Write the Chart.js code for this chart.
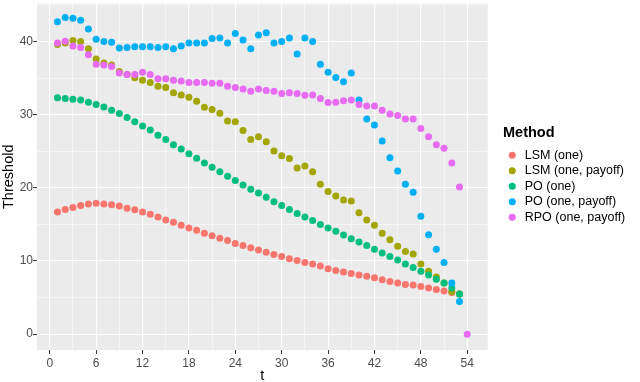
<!DOCTYPE html>
<html>
<head>
<meta charset="utf-8">
<script src="https://cdn.jsdelivr.net/npm/chart.js@4.4.1/dist/chart.umd.min.js"></script>
<style>
  html, body { margin: 0; padding: 0; background: #fff; }
  #wrap { width: 640px; height: 382px; }
</style>
</head>
<body>
<div id="wrap"><canvas id="chart"></canvas></div>
<script>
// Data (t = exercise date)
const tValues = [1, 2, 3, 4, 5, 6, 7, 8, 9, 10, 11, 12, 13, 14, 15, 16, 17, 18, 19, 20,
    21, 22, 23, 24, 25, 26, 27, 28, 29, 30, 31, 32, 33, 34, 35, 36, 37, 38, 39, 40,
    41, 42, 43, 44, 45, 46, 47, 48, 49, 50, 51, 52, 53, 54];

const methodNames = ['LSM (one)', 'LSM (one, payoff)', 'PO (one)', 'PO (one, payoff)', 'RPO (one, payoff)'];
const methodColors = ['#F8766D', '#A3A500', '#00BF7D', '#00B0F6', '#E76BF3'];

const lsmOne = [16.7, 17.05, 17.3, 17.6, 17.8, 17.9, 17.8, 17.7, 17.5, 17.2,
    17.0, 16.7, 16.4, 16.0, 15.6, 15.3, 14.9, 14.5, 14.2, 13.8,
    13.45, 13.1, 12.8, 12.4, 12.1, 11.8, 11.5, 11.2, 10.9, 10.6,
    10.3, 10.05, 9.8, 9.6, 9.3, 8.95, 8.7, 8.5, 8.3, 8.1,
    7.9, 7.7, 7.45, 7.2, 7.0, 6.8, 6.7, 6.5, 6.3, 6.1,
    5.9, 5.7, 5.5];

const lsmPayoff = [39.6, 39.8, 40.15, 40.0, 39.0, 37.6, 37.05, 36.8, 35.9, 35.5,
    35.06, 34.7, 34.4, 33.9, 33.7, 33.0, 32.7, 32.4, 31.85, 31.0,
    30.7, 30.2, 29.15, 29.05, 27.85, 26.6, 27.0, 26.3, 25.05, 24.4,
    24.0, 22.7, 23.0, 22.2, 20.5, 19.5, 18.9, 18.35, 18.2, 16.6,
    15.6, 14.9, 13.8, 12.9, 12.0, 11.3, 10.95, 9.6, 8.6, 7.8,
    7.0, 5.8, 5.5];

const poOne = [32.3, 32.2, 32.1, 32.0, 31.7, 31.4, 31.05, 30.6, 30.15, 29.6,
    29.05, 28.45, 27.9, 27.2, 26.6, 25.9, 25.3, 24.65, 24.05, 23.4,
    22.8, 22.2, 21.6, 21.0, 20.4, 19.8, 19.3, 18.7, 18.1, 17.6,
    17.05, 16.5, 16.0, 15.55, 15.0, 14.5, 14.05, 13.55, 13.05, 12.6,
    12.1, 11.6, 11.1, 10.6, 10.15, 9.6, 9.1, 8.6, 8.1, 7.5,
    7.0, 6.3, 5.5];

const poPayoff = [42.7, 43.3, 43.2, 42.9, 41.7, 40.3, 40.0, 39.9, 39.1, 39.2,
    39.3, 39.3, 39.3, 39.2, 39.3, 39.0, 39.4, 39.8, 39.8, 39.8,
    40.4, 40.5, 39.8, 41.1, 40.2, 39.0, 40.9, 41.2, 39.8, 40.0,
    40.5, 38.3, 40.5, 40.0, 36.9, 35.8, 35.1, 34.5, 35.7, 32.0,
    29.4, 28.6, 26.4, 24.1, 22.3, 20.5, 19.4, 16.1, 13.6, 11.6,
    9.8, 7.0, 4.45];

const rpoPayoff = [39.8, 40.05, 39.4, 39.2, 38.2, 36.9, 36.8, 36.6, 35.7, 35.5,
    35.5, 35.8, 35.5, 34.9, 34.9, 34.7, 34.6, 34.4, 34.4, 34.4,
    34.3, 34.3, 33.9, 33.7, 33.5, 33.2, 33.5, 33.3, 33.2, 32.9,
    33.0, 32.9, 32.65, 32.7, 32.2, 31.65, 31.7, 31.9, 32.0, 31.4,
    31.2, 31.2, 30.6, 30.1, 29.9, 29.4, 29.4, 28.1, 27.0, 25.9,
    25.4, 23.4, 20.1, 0];

const xMajorTicks = [0, 6, 12, 18, 24, 30, 36, 42, 48, 54];
const xMinorTicks = [3, 9, 15, 21, 27, 33, 39, 45, 51];
const yMajorTicks = [0, 10, 20, 30, 40];
const yMinorTicks = [5, 15, 25, 35, 45];

const allSeries = [lsmOne, lsmPayoff, poOne, poPayoff, rpoPayoff];

const FONT = "'Liberation Sans', Arial, Helvetica, sans-serif";

// grey panel like ggplot
const panelBg = {
    id: 'panelBg',
    beforeDraw(chart) {
        const { ctx, chartArea: a } = chart;
        ctx.save();
        ctx.fillStyle = '#EBEBEB';
        ctx.fillRect(a.left, a.top, a.right - a.left, a.bottom - a.top);
        ctx.restore();
    }
};

// nudge the legend block to where ggplot puts it
const legendNudge = {
    id: 'legendNudge',
    afterLayout(chart) {
        const lg = chart.legend;
        if (!lg) return;
        const dx = 503 - lg.left;
        lg.left += dx;
        lg.right += dx;
        lg.top -= 15;
        lg.bottom -= 15;
    }
};

function setTicks(major, minor) {
    return scale => {
        scale.ticks = major.concat(minor).sort((a, b) => a - b).map(v => ({ value: v }));
    };
}

function gridOpts(major) {
    return {
        color: '#FFFFFF',
        lineWidth: c => major.includes(c.tick.value) ? 1.1 : 0.55,
        drawTicks: true,
        tickLength: 4,
        tickWidth: 1,
        tickColor: c => major.includes(c.tick.value) ? '#333333' : 'rgba(0,0,0,0)'
    };
}

const datasets = allSeries.map((vals, i) => ({
    label: methodNames[i],
    data: vals.map((v, j) => ({ x: tValues[j], y: v })),
    backgroundColor: methodColors[i],
    borderColor: methodColors[i],
    borderWidth: 0,
    pointRadius: 3.5,
    pointHoverRadius: 3.5,
    order: allSeries.length - i
}));

new Chart(document.getElementById('chart'), {
    type: 'scatter',
    data: { datasets },
    plugins: [panelBg, legendNudge],
    options: {
        responsive: true,
        maintainAspectRatio: false,
        animation: false,
        layout: { padding: { left: 0, right: 20, top: 0, bottom: 0 } },
        scales: {
            x: {
                type: 'linear',
                min: -1.65,
                max: 56.65,
                afterBuildTicks: setTicks(xMajorTicks, xMinorTicks),
                afterFit: s => { s.height = 32; s.paddingLeft = 0; s.paddingRight = 0; },
                grid: gridOpts(xMajorTicks),
                border: { display: false },
                ticks: {
                    autoSkip: false,
                    maxRotation: 0,
                    padding: 2,
                    color: '#4D4D4D',
                    font: { family: FONT, size: 12 },
                    callback: v => xMajorTicks.includes(v) ? String(v) : ''
                },
                title: {
                    display: true,
                    text: 't',
                    color: '#000',
                    font: { family: FONT, size: 14.5, lineHeight: 1 },
                    padding: { top: 0, bottom: -1 }
                }
            },
            y: {
                type: 'linear',
                min: -2.17,
                max: 45.2,
                afterBuildTicks: setTicks(yMajorTicks, yMinorTicks),
                afterFit: s => { s.width = 37; s.paddingTop = 0; s.paddingBottom = 0; },
                grid: gridOpts(yMajorTicks),
                border: { display: false },
                ticks: {
                    autoSkip: false,
                    padding: 0,
                    color: '#4D4D4D',
                    font: { family: FONT, size: 12 },
                    callback: v => yMajorTicks.includes(v) ? String(v) : ''
                },
                title: {
                    display: true,
                    text: 'Threshold',
                    color: '#000',
                    font: { family: FONT, size: 14.5 },
                    padding: { top: 0, bottom: 0 }
                }
            }
        },
        plugins: {
            tooltip: { enabled: false },
            legend: {
                position: 'right',
                align: 'center',
                title: {
                    display: true,
                    text: 'Method',
                    position: 'start',
                    color: '#000',
                    font: { family: FONT, size: 14.5, weight: 'bold' },
                    padding: { top: 0, bottom: 3 }
                },
                labels: {
                    usePointStyle: true,
                    pointStyle: 'circle',
                    boxWidth: 13,
                    boxHeight: 5,
                    padding: 3,
                    color: '#000',
                    font: { family: FONT, size: 12.5 },
                    sort: (a, b) => a.datasetIndex - b.datasetIndex
                }
            }
        }
    }
});
</script>
</body>
</html>
